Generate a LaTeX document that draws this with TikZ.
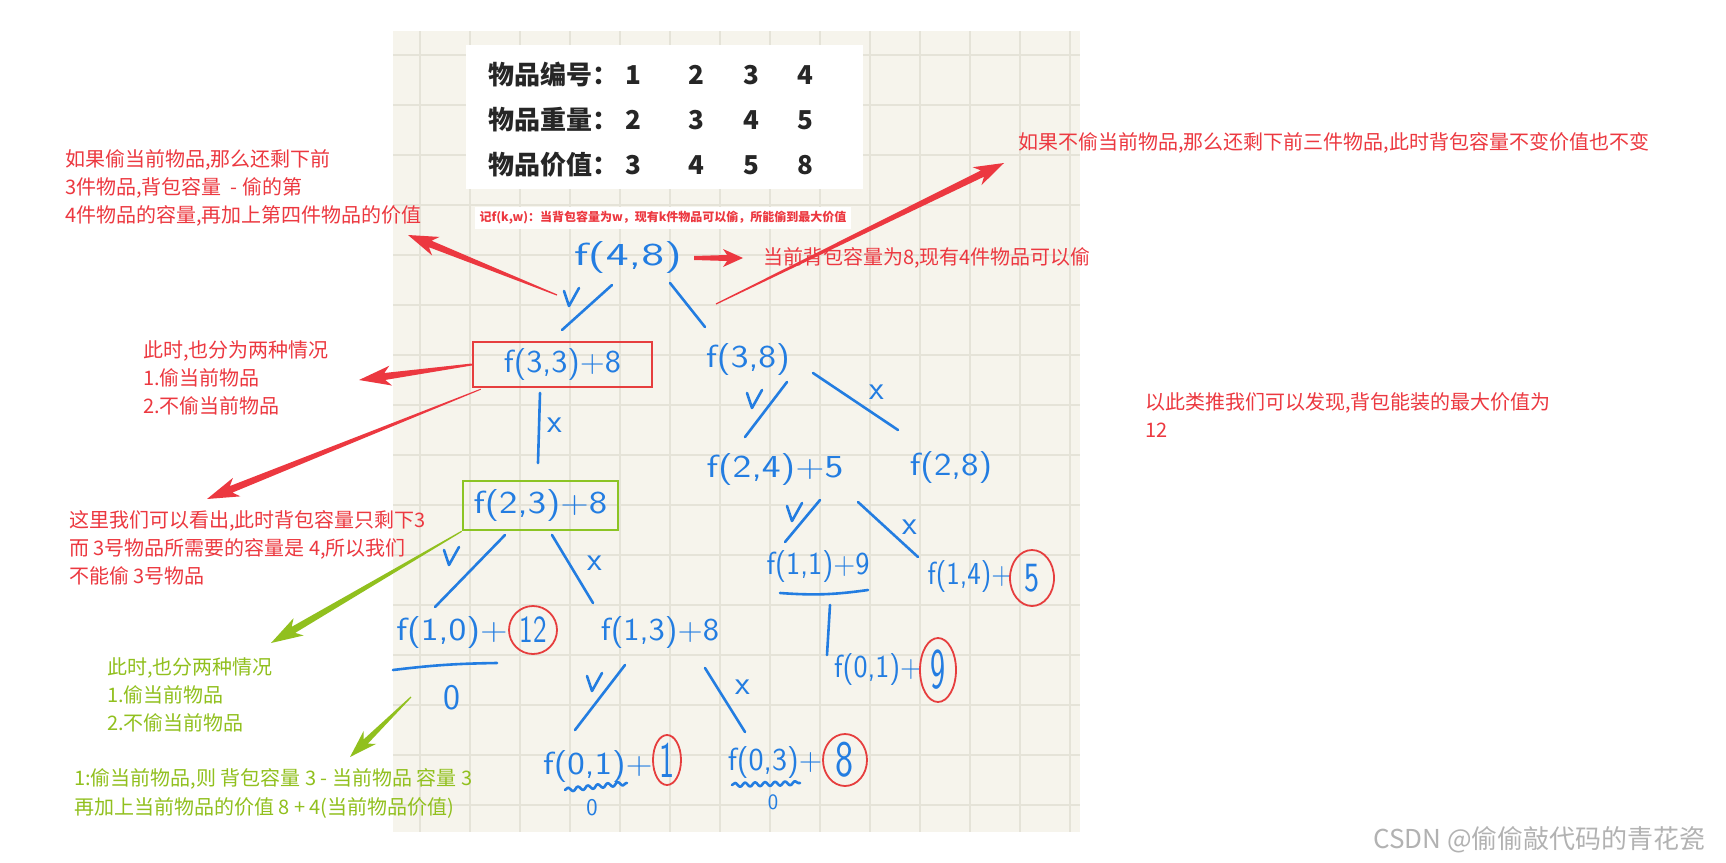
\documentclass[tikz,border=0pt]{standalone}
\usepackage{fontspec}
\setmainfont{Noto Sans CJK SC}
\usetikzlibrary{calc,shapes.geometric,decorations.pathmorphing}
\definecolor{inkblue}{RGB}{35,125,225}
\definecolor{annred}{RGB}{236,56,64}
\definecolor{boxred}{RGB}{230,62,62}
\definecolor{lime}{RGB}{145,192,30}
\definecolor{limebox}{RGB}{140,196,36}
\definecolor{paper}{RGB}{246,244,236}
\definecolor{gridc}{RGB}{229,227,216}
\definecolor{tabtext}{RGB}{38,38,38}
\definecolor{wmark}{RGB}{178,178,178}
\newcommand\hw[2]{\scalebox{#1}[1]{#2}}
% tapered arrow: colour, from, to, tail half, shaft half, head half, shaft-to-head, barb
\newcommand\tarrow[8]{%
  \coordinate (TAh) at ($(#3)!#7!(#2)$);
  \coordinate (TAb) at ($(#3)!#8!(#2)$);
  \fill[#1] ($(#2)!#4!90:(#3)$) -- ($(TAh)!#5!90:(#3)$) -- ($(TAb)!#6!90:(#3)$) -- (#3)
    -- ($(TAb)!#6!-90:(#3)$) -- ($(TAh)!#5!-90:(#3)$) -- ($(#2)!#4!-90:(#3)$) -- cycle;}
\tikzset{
  ink/.style={draw=inkblue, line width=2.6pt, line cap=round, line join=round},
  hand/.style={text=inkblue, font=\sffamily\fontsize{32}{32}\selectfont, inner sep=0pt},
  xlab/.style={text=inkblue, font=\sffamily\fontsize{34}{34}\selectfont, inner sep=0pt},
  circ/.style={ellipse, draw=boxred, line width=1.8pt, inner sep=0pt, text=inkblue,
    font=\sffamily\fontsize{32}{32}\selectfont},
  ann/.style={text=annred, font=\fontsize{20}{28}\selectfont, align=left, inner sep=0pt, anchor=west},
  anng/.style={ann, text=lime},
  tab/.style={text=tabtext, font=\bfseries\fontsize{26}{26}\selectfont, inner sep=0pt},
  chk/.pic={\draw[ink] (-6,-7) -- (-1,8) -- (9,-10);}
}
\begin{document}
\begin{tikzpicture}[x=1pt,y=-1pt]
\useasboundingbox (0,0) rectangle (1726,862);
\fill[white] (0,0) rectangle (1726,862);
% paper panel with grid
\fill[paper] (393,31) rectangle (1080,832);
\foreach \x in {420,470,...,1070} \draw[gridc, line width=1.3pt] (\x,31) -- (\x,832);
\foreach \y in {55,105,...,805} \draw[gridc, line width=1.3pt] (393,\y) -- (1080,\y);
% table
\fill[white] (466,45) rectangle (863,189);
\foreach \lab/\a/\b/\c/\d/\y in {物品编号/1/2/3/4/75, 物品重量/2/3/4/5/120, 物品价值/3/4/5/8/165}{
  \node[tab, anchor=west] (lab\y) at (488,\y) {\lab：};
  \node[tab] (na\y) at (633,\y) {\a};
  \node[tab] (nb\y) at (696,\y) {\b};
  \node[tab] (nc\y) at (751,\y) {\c};
  \node[tab] (nd\y) at (805,\y) {\d};
}
\node[fill=white, inner xsep=5pt, inner ysep=4pt, text=annred, font=\bfseries\fontsize{12}{12}\selectfont] (sub) at (663,218) {记f(k,w)：当背包容量为w，现有k件物品可以偷，所能偷到最大价值};
% tree nodes
\node[hand] (f48) at (628,258) {\hw{1.52}{f(4,8)}};
\node[hand, draw=boxred, line width=2.4pt, minimum width=179pt, minimum height=45pt] (f33) at (562.5,364.5) {\hw{1.07}{f(3,3)+8}};
\node[hand] (f38) at (748,360) {\hw{1.18}{f(3,8)}};
\node[hand, draw=limebox, line width=2.6pt, minimum width=155pt, minimum height=49pt] (f23) at (540.5,505.5) {\hw{1.22}{f(2,3)+8}};
\node[hand] (f245) at (775,470) {\hw{1.25}{f(2,4)+5}};
\node[hand] (f28) at (951,468) {\hw{1.16}{f(2,8)}};
\node[hand] (f119) at (818,567) {\hw{0.94}{f(1,1)+9}};
\node[hand] (f14) at (970,577) {\hw{0.9}{f(1,4)+}};
\node[circ, minimum width=44pt, minimum height=56pt] (v5) at (1032,578) {\scalebox{1}[1.3]{5}};
\node[hand] (f01a) at (878,670) {\hw{0.93}{f(0,1)+}};
\node[circ, minimum width=36pt, minimum height=64pt] (v9) at (938,670) {\scalebox{1}[1.8]{9}};
\node[hand] (f10) at (452,633) {\hw{1.18}{f(1,0)+}};
\node[circ, minimum width=48pt, minimum height=48pt] (v12) at (533,630) {\scalebox{0.9}[1.2]{12}};
\node[hand] (f13) at (660,633) {\hw{1.08}{f(1,3)+8}};
\node[hand] (f01b) at (598,767) {\hw{1.16}{f(0,1)+}};
\node[circ, minimum width=28pt, minimum height=50pt] (v1) at (667,760) {\scalebox{1}[1.6]{1}};
\node[hand] (f03) at (775,763) {\hw{1.0}{f(0,3)+}};
\node[circ, minimum width=44pt, minimum height=52pt] (v8) at (845,760) {\scalebox{1.2}[1.6]{8}};
\node[hand, font=\sffamily\fontsize{36}{36}\selectfont] (z1) at (452,698) {0};
\node[hand, font=\sffamily\fontsize{24}{24}\selectfont] (z2) at (592,808) {0};
\node[hand, font=\sffamily\fontsize{22}{22}\selectfont] (z3) at (773,802) {0};
% strokes
\draw[ink] ($(f48)+(-16,27)$) -- ($(f33)+(-0.5,-34.5)$);
\draw[ink] ($(f48)+(42,25)$) -- ($(f38)+(-43,-33)$);
\draw[ink] ($(f33)+(-22.5,28.5)$) -- ($(f23)+(-2.5,-42.5)$);
\draw[ink] ($(f38)+(39,22)$) -- ($(f245)+(-30,-33)$);
\draw[ink] ($(f38)+(65,13)$) -- ($(f28)+(-53,-38)$);
\draw[ink] ($(f245)+(45,30)$) -- ($(f119)+(-33,-25)$);
\draw[ink] ($(f245)+(83,32)$) -- ($(f14)+(-52,-20)$);
\draw[ink] ($(f23)+(-35.5,29.5)$) -- ($(f10)+(-17,-26)$);
\draw[ink] ($(f23)+(11.5,29.5)$) -- ($(f13)+(-67,-30)$);
\draw[ink] ($(f13)+(-35,32)$) -- ($(f01b)+(-23,-37)$);
\draw[ink] ($(f13)+(45,35)$) -- ($(f03)+(-30,-31)$);
\draw[ink] ($(f119)+(12,38)$) -- ($(f01a)+(-51,-15)$);
\draw[ink] ($(f119)+(-38,26)$) to[bend right=6] ($(f119)+(50,23)$);
\draw[ink] ($(f10)+(-59,37)$) to[bend left=3] ($(f10)+(45,30)$);
\draw[ink, decorate, decoration={snake, amplitude=2pt, segment length=10pt}] ($(f01b)+(-33,23)$) -- ($(f01b)+(29,16)$);
\draw[ink, decorate, decoration={snake, amplitude=2pt, segment length=10pt}] ($(f03)+(-43,22)$) -- ($(f03)+(25,20)$);
% check marks and crosses
\pic at (570,298) {chk};
\pic at (753,400) {chk};
\pic at (793,513) {chk};
\pic at (450,557) {chk};
\pic at (593,683) {chk};
\node[xlab] (x1) at (555,425) {x};
\node[xlab] (x2) at (877,392) {x};
\node[xlab] (x3) at (910,527) {x};
\node[xlab] (x4) at (595,563) {x};
\node[xlab] (x5) at (743,687) {x};
% annotations
\node[ann] (annL1) at (65,188) {如果偷当前物品,那么还剩下前\\3件物品,背包容量 \ - 偷的第\\4件物品的容量,再加上第四件物品的价值};
\node[ann] (annR1) at (1018,143) {如果不偷当前物品,那么还剩下前三件物品,此时背包容量不变价值也不变};
\node[ann] (annR2) at (763,258) {当前背包容量为8,现有4件物品可以偷};
\node[ann] (annL2) at (143,378) {此时,也分为两种情况\\1.偷当前物品\\2.不偷当前物品};
\node[ann] (annL3) at (69,548) {这里我们可以看出,此时背包容量只剩下3\\而 3号物品所需要的容量是 4,所以我们\\不能偷 3号物品};
\node[anng] (annG1) at (107,695) {此时,也分两种情况\\1.偷当前物品\\2.不偷当前物品};
\node[anng, font=\fontsize{20}{29}\selectfont] (annG2) at (74,793) {1:偷当前物品,则 背包容量 3 - 当前物品 容量 3\\再加上当前物品的价值 8 + 4(当前物品价值)};
\node[ann] (annR3) at (1145,415) {以此类推我们可以发现,背包能装的最大价值为\\12};
\node[text=wmark, font=\fontsize{26}{26}\selectfont, anchor=east, inner sep=0pt] (wm) at (1706,840) {CSDN @偷偷敲代码的青花瓷};
% arrows
\coordinate (a1s) at (557,295); \coordinate (a1e) at (408,235);
\coordinate (a2s) at (694,258); \coordinate (a2e) at (743,258);
\coordinate (a3s) at (716,304); \coordinate (a3e) at (1004,163);
\coordinate (a4e) at (359,380);
\coordinate (a5s) at ($(f33.south west)+(9,1)$); \coordinate (a5e) at (207,499);
\coordinate (g1e) at (271,643);
\coordinate (g2s) at (411,697); \coordinate (g2e) at (350,757);
\tarrow{annred}{a1s}{a1e}{0.6pt}{3.5pt}{10pt}{24pt}{30pt}
\tarrow{annred}{a2s}{a2e}{2pt}{3pt}{9pt}{16pt}{20pt}
\tarrow{annred}{a3s}{a3e}{0.6pt}{3.5pt}{10pt}{24pt}{30pt}
\tarrow{annred}{f33.west}{a4e}{1pt}{3.5pt}{10pt}{26pt}{32pt}
\tarrow{annred}{a5s}{a5e}{0.5pt}{3.5pt}{10pt}{26pt}{32pt}
\tarrow{lime}{f23.south west}{g1e}{0.6pt}{3.5pt}{10pt}{26pt}{32pt}
\tarrow{lime}{g2s}{g2e}{0.6pt}{3pt}{9pt}{22pt}{28pt}
\end{tikzpicture}
\end{document}
